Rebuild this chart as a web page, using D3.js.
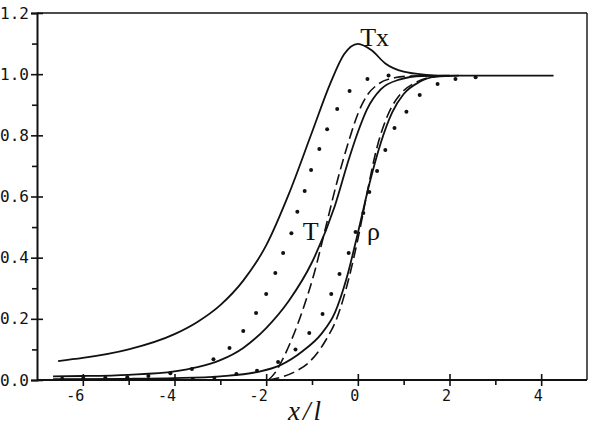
<!DOCTYPE html>
<html>
<head>
<meta charset="utf-8">
<script src="https://cdn.jsdelivr.net/npm/d3@7"></script>
<style>
  html, body { margin: 0; padding: 0; background: #fff; }
  svg { display: block; }
</style>
</head>
<body>
<script>
// ---- Data ----
const xMajorTicks = [-6, -4, -2, 0, 2, 4];
const xMinorTicks = [-5, -3, -1, 1, 3];
const yMajorTicks = [0, 0.2, 0.4, 0.6, 0.8, 1.0, 1.2];
const yMinorTicks = [0.1, 0.3, 0.5, 0.7, 0.9, 1.1];

// solid "Tx"
const txX = [-6.54, -6.0, -5.0, -4.0, -3.5, -3.0, -2.5, -2.0, -1.5, -1.0, -0.6, -0.3, 0.0, 0.3, 0.6, 1.0, 1.5, 2.0, 4.27];
const txY = [0.062, 0.072, 0.1, 0.15, 0.19, 0.245, 0.325, 0.44, 0.61, 0.81, 0.97, 1.065, 1.099, 1.078, 1.035, 1.008, 0.998, 0.995, 0.995];

// solid "T"
const tX = [-6.65, -6.0, -5.0, -4.0, -3.5, -3.0, -2.5, -2.0, -1.5, -1.0, -0.5, -0.2, 0.0, 0.2, 0.5, 0.9, 1.4, 2.0];
const tY = [0.012, 0.013, 0.017, 0.028, 0.042, 0.065, 0.105, 0.17, 0.26, 0.385, 0.57, 0.72, 0.81, 0.885, 0.95, 0.982, 0.994, 0.995];

// dashed near "T"
const tdX = [-1.95, -1.8, -1.65, -1.45, -1.2, -0.95, -0.7, -0.45, -0.2, 0.0, 0.2, 0.45, 0.8, 1.2, 1.7];
const tdY = [0.0, 0.025, 0.065, 0.13, 0.23, 0.35, 0.5, 0.65, 0.78, 0.87, 0.93, 0.968, 0.988, 0.994, 0.995];

// solid "rho"
const rX = [-6.65, -5.0, -4.0, -3.0, -2.2, -1.7, -1.2, -0.8, -0.5, -0.25, 0.0, 0.25, 0.5, 0.75, 1.0, 1.35, 1.7, 2.2];
const rY = [0.003, 0.004, 0.006, 0.012, 0.026, 0.048, 0.095, 0.15, 0.22, 0.33, 0.48, 0.64, 0.775, 0.875, 0.935, 0.975, 0.992, 0.995];

// dashed near "rho"
const rdX = [-1.95, -1.7, -1.4, -1.05, -0.7, -0.45, -0.2, 0.0, 0.2, 0.4, 0.65, 0.93, 1.25, 1.6, 2.0];
const rdY = [0.0, 0.008, 0.025, 0.06, 0.13, 0.205, 0.33, 0.46, 0.61, 0.75, 0.865, 0.935, 0.972, 0.99, 0.995];

// dotted (left)
const d1X = [-6.45, -5.99, -5.51, -5.03, -4.57, -4.09, -3.62, -3.15, -2.8, -2.5, -2.22, -2.0, -1.8, -1.63, -1.45, -1.32, -1.16, -1.02, -0.84, -0.67, -0.45, -0.18, 0.21, 0.67];
const d1Y = [0.004, 0.006, 0.007, 0.009, 0.013, 0.022, 0.036, 0.068, 0.105, 0.16, 0.219, 0.281, 0.35, 0.415, 0.48, 0.55, 0.618, 0.687, 0.755, 0.82, 0.886, 0.945, 0.984, 0.996];

// dotted (right)
const d2X = [-3.6, -3.13, -2.65, -2.2, -1.74, -1.36, -1.06, -0.77, -0.58, -0.4, -0.2, -0.05, 0.12, 0.25, 0.42, 0.6, 0.8, 1.06, 1.35, 1.74, 2.13, 2.57];
const d2Y = [0.003, 0.007, 0.02, 0.03, 0.059, 0.1, 0.154, 0.216, 0.281, 0.347, 0.415, 0.484, 0.546, 0.615, 0.683, 0.752, 0.824, 0.877, 0.932, 0.968, 0.984, 0.99];

const labels = [
  { text: "Tx", x: 0.05, y: 1.092 },
  { text: "T",  x: -1.2, y: 0.458 },
  { text: "ρ",  x: 0.2, y: 0.458 }
];

// ---- Chart ----
const W = 590, H = 426;
const x = d3.scaleLinear().domain([-7, 5]).range([37, 587]);
const y = d3.scaleLinear().domain([0, 1.2]).range([380, 13]);

const svg = d3.select("body").append("svg").attr("width", W).attr("height", H);
svg.append("rect").attr("width", W).attr("height", H).attr("fill", "#fff");

const zip = (xs, ys) => xs.map((v, i) => [v, ys[i]]);
const line = d3.line().x(d => x(d[0])).y(d => y(d[1])).curve(d3.curveMonotoneX);

// frame (top and right)
svg.append("line").attr("x1", x(-7)).attr("x2", x(5)).attr("y1", y(1.2)).attr("y2", y(1.2))
  .attr("stroke", "#111").attr("stroke-width", 1.6);
svg.append("line").attr("x1", x(5)).attr("x2", x(5)).attr("y1", y(1.2)).attr("y2", y(0))
  .attr("stroke", "#111").attr("stroke-width", 1.4);

// axes
const styleAxis = g => {
  g.select(".domain").attr("stroke", "#111").attr("stroke-width", 2);
  g.selectAll(".tick line").attr("stroke", "#111").attr("stroke-width", 1.6);
  g.selectAll("text").attr("fill", "#111");
};

const yAxisG = svg.append("g").attr("transform", `translate(${x(-7)},0)`)
  .call(d3.axisLeft(y).tickValues(yMajorTicks).tickSize(6).tickPadding(2).tickFormat(d3.format(".1f")))
  .call(styleAxis);
yAxisG.selectAll("text").attr("font-family", "DejaVu Sans Mono").attr("font-size", 16);
svg.append("g").attr("transform", `translate(${x(-7)},0)`)
  .call(d3.axisRight(y).tickValues(yMajorTicks).tickSize(6).tickFormat(""))
  .call(styleAxis).select(".domain").remove();
svg.append("g").attr("transform", `translate(${x(-7)},0)`)
  .call(d3.axisLeft(y).tickValues(yMinorTicks).tickSize(5).tickFormat(""))
  .call(styleAxis).select(".domain").remove();

const xAxisG = svg.append("g").attr("transform", `translate(0,${y(0)})`)
  .call(d3.axisBottom(x).tickValues(xMajorTicks).tickSize(6).tickPadding(4).tickFormat(d => String(d)))
  .call(styleAxis);
xAxisG.selectAll("text").attr("font-family", "DejaVu Sans Mono").attr("font-size", 15)
  .attr("text-anchor", "end").attr("dx", "1");
xAxisG.select(".domain").attr("d", `M${x(-7)},0H${x(5)}`);
svg.append("g").attr("transform", `translate(0,${y(0)})`)
  .call(d3.axisTop(x).tickValues(xMajorTicks).tickSize(6).tickFormat(""))
  .call(styleAxis).select(".domain").remove();
svg.append("g").attr("transform", `translate(0,${y(0)})`)
  .call(d3.axisBottom(x).tickValues(xMinorTicks).tickSize(5).tickFormat(""))
  .call(styleAxis).select(".domain").remove();

// curves
const solid = [zip(txX, txY), zip(tX, tY), zip(rX, rY)];
const dashed = [zip(tdX, tdY), zip(rdX, rdY)];
const dotted = [zip(d1X, d1Y), zip(d2X, d2Y)];

svg.append("g").selectAll("path").data(solid).join("path")
  .attr("d", line).attr("fill", "none").attr("stroke", "#111").attr("stroke-width", 1.8);
svg.append("g").selectAll("path").data(dashed).join("path")
  .attr("d", line).attr("fill", "none").attr("stroke", "#111").attr("stroke-width", 1.6)
  .attr("stroke-dasharray", "11,5");
dotted.forEach(s => {
  svg.append("g").selectAll("circle").data(s).join("circle")
    .attr("cx", d => x(d[0])).attr("cy", d => y(d[1])).attr("r", 2).attr("fill", "#111");
});

// curve labels
svg.append("g").selectAll("text").data(labels).join("text")
  .attr("x", d => x(d.x)).attr("y", d => y(d.y))
  .attr("font-family", "Liberation Serif").attr("font-size", 26).attr("fill", "#111")
  .text(d => d.text);

// axis title
svg.append("text").attr("x", 306).attr("y", 420).attr("text-anchor", "middle")
  .attr("font-family", "Liberation Serif").attr("font-style", "italic").attr("font-size", 27)
  .attr("letter-spacing", 3).attr("fill", "#111").text("x/l");
</script>
</body>
</html>
